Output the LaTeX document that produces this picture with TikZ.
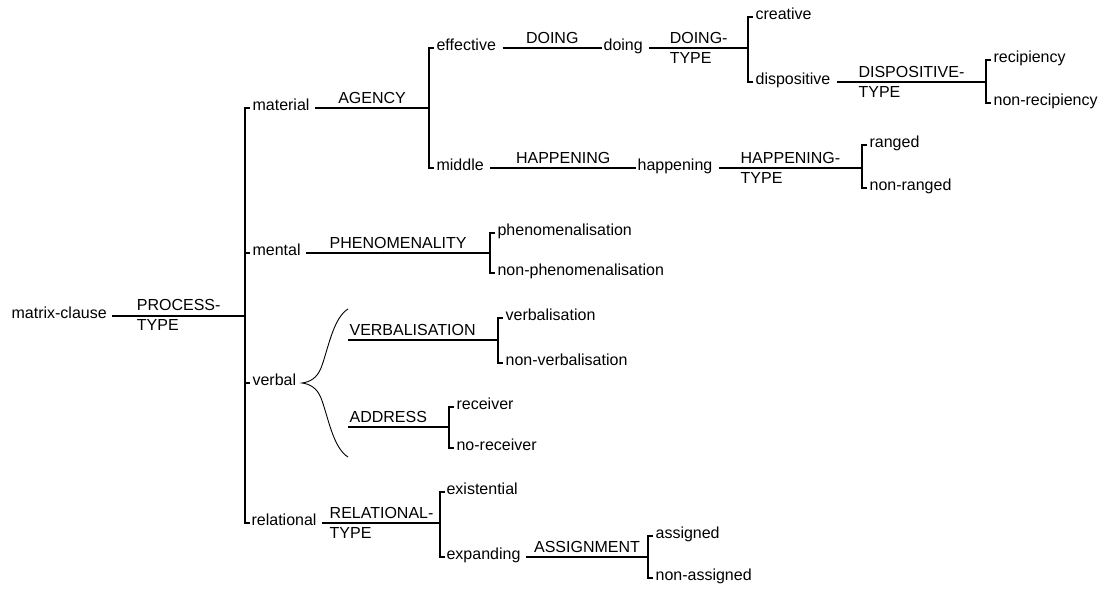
\documentclass[tikz,border=0pt]{standalone}
\usepackage{fontspec}
\setmainfont{Liberation Sans}
\usetikzlibrary{calc}
\newcommand{\fsz}{\fontsize{16}{20}\selectfont}
\begin{document}
\begin{tikzpicture}[x=1pt,y=-1pt,line width=1.2pt,
  leaf/.style={inner sep=0pt,anchor=mid west,font=\fsz},
  lab/.style={inner sep=0pt,font=\fsz}]
\fill[white] (0,0) rectangle (1104,589);
\useasboundingbox (0,0) rectangle (1104,589);
% ---------- root
\node[leaf] (mc) at (11,316) {matrix-clause};
\coordinate (j0) at (245,316);
\draw ([xshift=5pt]mc.mid east) -- (j0);
\node[lab,anchor=base] (pt) at ($([xshift=5pt]mc.mid east)!.5!(j0)+(0,-5.5)$) {PROCESS-};
\node[lab,anchor=base west] (pt2) at ([yshift=-20pt]pt.base west) {TYPE};
% ---------- level 1
\node[leaf] (mat) at (252,108) {material};
\node[leaf] (men) at (252,253) {mental};
\node[leaf] (verb) at (252,383) {verbal};
\node[leaf] (rel) at (251,523) {relational};
\draw ([xshift=-2pt]mat.mid west) -- ++(-5,0) |- ([xshift=-1pt]rel.mid west);
\draw ([xshift=-2pt]men.mid west) -- ++(-5,0);
\draw ([xshift=-2pt]verb.mid west) -- ++(-5,0);
% ---------- material
\coordinate (j1) at (429,108);
\draw ([xshift=5pt]mat.mid east) -- (j1);
\node[lab,anchor=base] (agy) at ($([xshift=5pt]mat.mid east)!.5!(j1)+(0,-5)$) {AGENCY};
\node[leaf] (eff) at (436,48) {effective};
\node[leaf] (mid) at (436,168) {middle};
\draw ([xshift=-2pt]eff.mid west) -- ++(-5,0) |- ([xshift=-2pt]mid.mid west);
% effective
\node[leaf] (doi) at (603,48) {doing};
\draw ([xshift=6pt]eff.mid east) -- ([xshift=-1pt]doi.mid west);
\node[lab,anchor=base] (dg) at ($([xshift=6pt]eff.mid east)!.5!([xshift=-1pt]doi.mid west)+(0,-5)$) {DOING};
\coordinate (j4) at (748,48);
\draw ([xshift=6pt]doi.mid east) -- (j4);
\node[lab,anchor=base] (dt) at ($([xshift=6pt]doi.mid east)!.5!(j4)+(0,-5)$) {DOING-};
\node[lab,anchor=base west] (dt2) at ([yshift=-20pt]dt.base west) {TYPE};
\node[leaf] (cre) at (755,17) {creative};
\node[leaf] (dis) at (755,82) {dispositive};
\draw ([xshift=-2pt]cre.mid west) -- ++(-5,0) |- ([xshift=-2pt]dis.mid west);
\coordinate (j5) at (986,82);
\draw ([xshift=6pt]dis.mid east) -- (j5);
\node[lab,anchor=base] (dsp) at ($([xshift=6pt]dis.mid east)!.5!(j5)+(0,-5)$) {DISPOSITIVE-};
\node[lab,anchor=base west] (dsp2) at ([yshift=-20pt]dsp.base west) {TYPE};
\node[leaf] (rec) at (993,60) {recipiency};
\node[leaf] (nrec) at (993,103) {non-recipiency};
\draw ([xshift=-2pt]rec.mid west) -- ++(-5,0) |- ([xshift=-2pt]nrec.mid west);
% middle
\node[leaf] (hap) at (637,168) {happening};
\draw ([xshift=6pt]mid.mid east) -- ([xshift=-1pt]hap.mid west);
\node[lab,anchor=base] (hg) at ($([xshift=6pt]mid.mid east)!.5!([xshift=-1pt]hap.mid west)+(0,-5)$) {HAPPENING};
\coordinate (j6) at (862,168);
\draw ([xshift=6pt]hap.mid east) -- (j6);
\node[lab,anchor=base] (ht) at ($([xshift=6pt]hap.mid east)!.5!(j6)+(0,-5)$) {HAPPENING-};
\node[lab,anchor=base west] (ht2) at ([yshift=-20pt]ht.base west) {TYPE};
\node[leaf] (ran) at (869,145) {ranged};
\node[leaf] (nran) at (869,188) {non-ranged};
\draw ([xshift=-2pt]ran.mid west) -- ++(-5,0) |- ([xshift=-2pt]nran.mid west);
% ---------- mental
\coordinate (j2) at (490,253);
\draw ([xshift=5pt]men.mid east) -- (j2);
\node[lab,anchor=base] (phn) at ($([xshift=5pt]men.mid east)!.5!(j2)+(0,-5)$) {PHENOMENALITY};
\node[leaf] (phe) at (497,233) {phenomenalisation};
\node[leaf] (nphe) at (497,273) {non-phenomenalisation};
\draw ([xshift=-2pt]phe.mid west) -- ++(-5,0) |- ([xshift=-2pt]nphe.mid west);
% ---------- verbal
\coordinate (bt) at (348,309);
\coordinate (tip) at (302,383);
\coordinate (bb) at (348,457);
\draw[line width=0.9pt] (bt) .. controls (333,318) and (328,350) .. (321,368)
   .. controls (317,378) and (310,382) .. (tip)
   .. controls (310,384) and (317,388) .. (321,398)
   .. controls (328,416) and (333,448) .. (bb);
\coordinate (bv) at (348,340);
\coordinate (j7) at (498,340);
\draw (bv) -- (j7);
\node[lab,anchor=base west] (vbn) at ($(bv)+(1,-5)$) {VERBALISATION};
\node[leaf] (vbl) at (505,318) {verbalisation};
\node[leaf] (nvbl) at (505,363) {non-verbalisation};
\draw ([xshift=-2pt]vbl.mid west) -- ++(-5,0) |- ([xshift=-2pt]nvbl.mid west);
\coordinate (ba) at (348,427);
\coordinate (j8) at (449,427);
\draw (ba) -- (j8);
\node[lab,anchor=base west] (adr) at ($(ba)+(1,-5)$) {ADDRESS};
\node[leaf] (rcv) at (456,407) {receiver};
\node[leaf] (nrcv) at (456,448) {no-receiver};
\draw ([xshift=-2pt]rcv.mid west) -- ++(-5,0) |- ([xshift=-2pt]nrcv.mid west);
% ---------- relational
\coordinate (j3) at (441,523);
\draw ([xshift=5pt]rel.mid east) -- (j3);
\node[lab,anchor=base] (rt) at ($([xshift=5pt]rel.mid east)!.5!(j3)+(0,-5)$) {RELATIONAL-};
\node[lab,anchor=base west] (rt2) at ([yshift=-20pt]rt.base west) {TYPE};
\node[leaf] (exi) at (446,492) {existential};
\node[leaf] (exp) at (446,557) {expanding};
\draw ([xshift=-1pt]exi.mid west) -- ++(-5,0) |- ([xshift=-1pt]exp.mid west);
\coordinate (j9) at (648,557);
\draw ([xshift=5pt]exp.mid east) -- (j9);
\node[lab,anchor=base] (asg) at ($([xshift=5pt]exp.mid east)!.5!(j9)+(0,-5)$) {ASSIGNMENT};
\node[leaf] (ass) at (655,536) {assigned};
\node[leaf] (nass) at (655,578) {non-assigned};
\draw ([xshift=-2pt]ass.mid west) -- ++(-5,0) |- ([xshift=-2pt]nass.mid west);
\end{tikzpicture}
\end{document}
